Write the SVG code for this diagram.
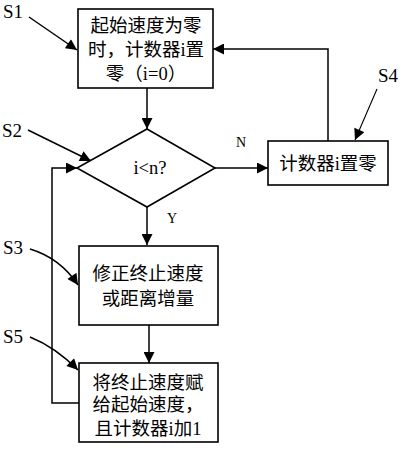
<svg xmlns="http://www.w3.org/2000/svg" width="412" height="450" viewBox="0 0 412 450">
<style>
.box{fill:#fff;stroke:#000;stroke-width:1.6}
.ln{fill:none;stroke:#000;stroke-width:1.5}
.thin{fill:none;stroke:#000;stroke-width:1.1}
.t{font-family:"Liberation Serif","Noto Sans CJK SC",serif;font-size:18.5px;fill:#000;text-anchor:middle}
.lab{font-family:"Liberation Serif",serif;font-size:19px;fill:#000}
.yn{font-family:"Liberation Serif",serif;font-size:14px;fill:#000}
</style>
<defs>
<marker id="ah" viewBox="0 0 10 10" refX="10" refY="5" markerWidth="10" markerHeight="9" markerUnits="userSpaceOnUse" orient="auto">
<path d="M0,0 L10,5 L0,10 z" fill="#000"/>
</marker>
<marker id="ahb" viewBox="0 0 10 10" refX="10" refY="5" markerWidth="12" markerHeight="11" markerUnits="userSpaceOnUse" orient="auto">
<path d="M0,0 L10,5 L0,10 z" fill="#000"/>
</marker>
</defs>
<rect width="412" height="450" fill="#fff"/>
<g id="connectors">
<line class="ln" x1="147" y1="88" x2="147" y2="129" marker-end="url(#ahb)"/>
<line class="ln" x1="147" y1="207" x2="147" y2="245" marker-end="url(#ahb)"/>
<line class="ln" x1="215" y1="168" x2="268" y2="168" marker-end="url(#ahb)"/>
<polyline class="ln" points="328,141 328,49 213,49" marker-end="url(#ahb)"/>
<line class="ln" x1="149" y1="325" x2="149" y2="363" marker-end="url(#ahb)"/>
<polyline class="ln" points="79,403 52,403 52,168 77,168" marker-end="url(#ahb)"/>
<line class="ln" x1="29" y1="17" x2="77" y2="50" marker-end="url(#ahb)"/>
<line class="ln" x1="28" y1="130" x2="91" y2="161" marker-end="url(#ahb)"/>
<path class="ln" d="M30,249 Q60,258 78,285" marker-end="url(#ahb)"/>
<path class="ln" d="M30,337 Q55,347 78,370" marker-end="url(#ahb)"/>
<line class="thin" x1="377" y1="89" x2="355" y2="140" marker-end="url(#ahb)"/>
</g>
<g id="S1">
<rect class="box" x="78" y="9" width="135" height="79"/>
<text class="t" x="146" y="32">起始速度为零</text>
<text class="t" x="146" y="56">时，计数器i置</text>
<text class="t" x="146" y="80">零（i=0）</text>
<text class="lab" x="3" y="18">S1</text>
</g>
<g id="S2">
<polygon class="box" points="147,129 215,168 147,207 77,168"/>
<text class="t" x="150" y="174">i&lt;n?</text>
<text class="lab" x="2" y="137">S2</text>
<text class="yn" x="236" y="147">N</text>
<text class="yn" x="167" y="223">Y</text>
</g>
<g id="S4">
<rect class="box" x="268" y="141" width="120" height="44"/>
<text class="t" x="328" y="170">计数器i置零</text>
<text class="lab" x="378" y="82">S4</text>
</g>
<g id="S3">
<rect class="box" x="79" y="246" width="139" height="79"/>
<text class="t" x="148" y="280">修正终止速度</text>
<text class="t" x="148" y="305">或距离增量</text>
<text class="lab" x="3" y="254">S3</text>
</g>
<g id="S5">
<rect class="box" x="79" y="363" width="139" height="79"/>
<text class="t" x="148" y="389">将终止速度赋</text>
<text class="t" x="148" y="411">给起始速度，</text>
<text class="t" x="148" y="435">且计数器i加1</text>
<text class="lab" x="3" y="343">S5</text>
</g>
</svg>
